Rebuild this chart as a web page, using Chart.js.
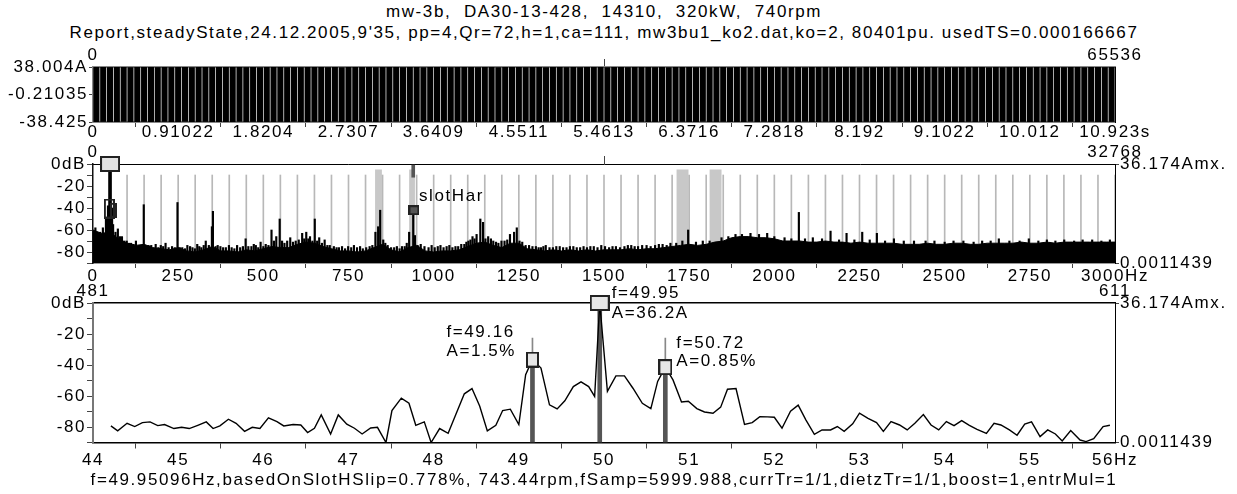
<!DOCTYPE html>
<html>
<head>
<meta charset="utf-8">
<script src="https://cdn.jsdelivr.net/npm/chart.js@4.4.0/dist/chart.umd.min.js"></script>
<style>
body { margin: 0; background: #fff; }
#wrap { position: relative; width: 1237px; height: 494px; overflow: hidden; font-family: 'Liberation Sans', Arial, sans-serif; }
.txt { position: absolute; left: 0; width: 1208px; text-align: center; font-size: 17px; letter-spacing: 1.6px; white-space: pre; color: #000; line-height: 20px; }
canvas { position: absolute; left: 0; }
</style>
</head>
<body>
<div id="wrap">
  <div class="txt" style="top:2px">mw-3b,  DA30-13-428,  14310,  320kW,  740rpm</div>
  <div class="txt" style="top:23px">Report,steadyState,24.12.2005,9'35, pp=4,Qr=72,h=1,ca=111, mw3bu1_ko2.dat,ko=2, 80401pu. usedTS=0.000166667</div>
  <canvas id="wave" width="1237" height="120" style="top:30px"></canvas>
  <canvas id="spec" width="1237" height="160" style="top:130px"></canvas>
  <canvas id="zoom" width="1237" height="198" style="top:272px"></canvas>
  <div class="txt" style="top:470px">f=49.95096Hz,basedOnSlotHSlip=0.778%, 743.44rpm,fSamp=5999.988,currTr=1/1,dietzTr=1/1,boost=1,entrMul=1</div>
</div>
<script>
// ---- top panel: time signal envelope (A) ----
var waveMax = [
  38.0, 38.0, 37.9, 38.0, 38.0, 37.8, 38.0, 38.0, 38.0, 37.9,
  38.0, 37.9, 38.0, 38.0, 37.8, 38.0, 38.0, 37.9, 38.0, 38.0,
  38.0, 38.0, 37.9, 38.0, 37.8, 38.0, 38.0, 38.0, 37.9, 38.0,
  37.9, 38.0, 38.0, 38.0, 37.9, 38.0, 37.8, 38.0, 38.0, 38.0,
  38.0, 37.9, 38.0, 38.0, 38.0, 37.9, 38.0, 38.0, 37.8, 38.0,
  38.0, 38.0, 37.9, 38.0, 38.0, 38.0, 37.9, 38.0, 38.0, 37.8,
  38.0, 38.0, 38.0, 37.9, 38.0, 38.0, 37.8, 38.0, 38.0, 37.9,
  38.0, 37.9, 38.0, 38.0, 38.0, 37.8, 38.0, 38.0, 37.9, 38.0,
  38.0, 38.0, 37.9, 38.0, 37.8, 38.0, 38.0, 38.0, 37.9, 38.0,
  37.9, 38.0, 38.0, 37.8, 38.0, 38.0, 37.9, 38.0, 38.0, 38.0,
  38.0, 37.9, 38.0, 38.0, 37.8, 38.0, 38.0, 38.0, 37.9, 38.0,
  38.0, 38.0, 37.8, 38.0, 37.9, 38.0, 38.0, 37.9, 38.0, 38.0,
  37.9, 38.0, 38.0, 38.0, 37.8, 38.0, 37.9, 38.0, 38.0, 38.0,
  38.0, 37.8, 38.0, 37.9, 38.0, 38.0, 38.0, 37.9, 38.0, 37.8,
  38.0, 38.0, 37.9, 38.0, 38.0, 37.8, 38.0, 38.0, 37.9, 38.0
];
var waveMin = [
  -38.4, -38.3, -38.4, -38.4, -38.2, -38.4, -38.4, -38.3, -38.4, -38.4,
  -38.3, -38.4, -38.4, -38.2, -38.4, -38.4, -38.3, -38.4, -38.4, -38.4,
  -38.4, -38.2, -38.4, -38.3, -38.4, -38.4, -38.4, -38.3, -38.4, -38.2,
  -38.4, -38.4, -38.3, -38.4, -38.4, -38.2, -38.4, -38.4, -38.3, -38.4,
  -38.3, -38.4, -38.4, -38.4, -38.2, -38.4, -38.3, -38.4, -38.4, -38.4,
  -38.4, -38.3, -38.4, -38.2, -38.4, -38.4, -38.4, -38.3, -38.4, -38.4,
  -38.2, -38.4, -38.4, -38.3, -38.4, -38.4, -38.2, -38.4, -38.3, -38.4,
  -38.4, -38.4, -38.3, -38.4, -38.2, -38.4, -38.4, -38.4, -38.3, -38.4,
  -38.3, -38.4, -38.4, -38.2, -38.4, -38.4, -38.3, -38.4, -38.4, -38.2,
  -38.4, -38.4, -38.3, -38.4, -38.4, -38.4, -38.2, -38.4, -38.3, -38.4,
  -38.4, -38.3, -38.4, -38.4, -38.2, -38.4, -38.4, -38.3, -38.4, -38.4,
  -38.2, -38.4, -38.4, -38.3, -38.4, -38.4, -38.4, -38.2, -38.4, -38.3,
  -38.4, -38.4, -38.3, -38.4, -38.2, -38.4, -38.4, -38.4, -38.3, -38.4,
  -38.3, -38.4, -38.4, -38.2, -38.4, -38.4, -38.3, -38.4, -38.4, -38.4,
  -38.4, -38.2, -38.4, -38.3, -38.4, -38.4, -38.2, -38.4, -38.4, -38.3
];
var waveYValues = [-38.425, -0.21035, 38.004];
var waveYLabels = ['-38.425', '-0.21035', '38.004A'];
var timeTickLabels = ['0', '0.91022', '1.8204', '2.7307', '3.6409', '4.5511', '5.4613',
  '6.3716', '7.2818', '8.192', '9.1022', '10.012', '10.923s'];
var waveIndexLabels = ['0', '65536'];

// ---- middle panel: spectrum 0..3000 Hz (dB) ----
var noiseStep = 25;
var noiseDb = [
  -60, -63, -62, -68, -72, -74, -73, -76, -77, -78,
  -76, -79, -80, -78, -75, -79, -79, -80, -78, -79,
  -77, -75, -76, -76, -73, -71, -72, -75, -77, -79,
  -79, -80, -79, -76, -73, -78, -80, -76, -74, -79,
  -80, -79, -79, -78, -75, -72, -71, -74, -76, -72,
  -72, -77, -78, -79, -78, -79, -78, -79, -78, -79,
  -78, -78, -78, -77, -78, -77, -77, -76, -75, -74,
  -73, -74, -73, -71, -70, -67, -66, -66, -67, -67,
  -68, -70, -70, -70, -71, -71, -70, -71, -71, -72,
  -71, -72, -72, -72, -72, -73, -73, -73, -72, -73,
  -73, -72, -72, -73, -73, -72, -72, -72, -72, -71,
  -72, -72, -71, -72, -71, -71, -71, -71, -71, -71,
  -71
];
var spikeFreq = [7, 14, 21, 29, 38, 44, 56, 59, 66, 73, 79, 85, 92, 99, 106, 112, 119, 126, 137, 149,
  156, 163, 171, 184, 192, 199, 206, 213, 222, 232, 240, 248, 255, 262, 270, 277, 285, 292, 299, 306,
  312, 318, 325, 331, 340, 349, 352, 360, 366, 374, 382, 390, 399, 407, 415, 423, 432, 440, 448, 456,
  465, 472, 478, 485, 492, 500, 507, 515, 524, 531, 538, 548, 555, 562, 570, 579, 587, 595, 604, 614,
  620, 626, 632, 637, 644, 651, 658, 664, 672, 680, 688, 695, 707, 715, 722, 731, 740, 749, 758, 766,
  775, 784, 792, 802, 812, 820, 829, 837, 843, 852, 858, 865, 875, 884, 892, 900, 907, 915, 921, 928,
  940, 945, 953, 962, 973, 985, 994, 1003, 1012, 1020, 1029, 1038, 1046, 1055, 1064, 1072, 1081, 1090, 1096, 1102,
  1108, 1114, 1120, 1126, 1137, 1145, 1152, 1160, 1168, 1175, 1183, 1190, 1199, 1208, 1216, 1224, 1236, 1244, 1252, 1260,
  1270, 1280, 1290, 1300, 1308, 1315, 1322, 1329, 1340, 1350, 1360, 1370, 1380, 1390, 1400, 1410, 1420, 1430, 1440, 1450,
  1460, 1470, 1481, 1492, 1503, 1515, 1525, 1535, 1547, 1560, 1570, 1580, 1590, 1600, 1612, 1625, 1637, 1650, 1661, 1672,
  1684, 1695, 1712, 1730, 1747, 1770, 1790, 1810, 1845, 1865, 1886,
  1905, 1930, 1955, 1979, 2000, 2030, 2050, 2072, 2090, 2113, 2140, 2165, 2190, 2212, 2235, 2258, 2280, 2301, 2325, 2351,
  2380, 2410, 2444, 2470, 2500, 2526, 2555, 2585, 2610, 2635, 2659, 2690, 2720, 2747, 2775, 2800, 2825, 2851, 2880, 2905,
  2933, 2960, 2985];
var spikeDb = [-58, -64, -62, -58, -50, -38, -40, -55, -62, -59, -66, -66, -70, -70, -72, -72, -73, -70, -74, -37,
  -75, -74, -74, -73, -76, -74, -75, -72, -76, -75, -76, -35, -76, -76, -77, -74, -75, -76, -77, -73,
  -75, -76, -74, -70, -74, -57, -43, -75, -74, -75, -76, -76, -74, -76, -77, -74, -76, -75, -68, -75,
  -75, -73, -74, -76, -71, -75, -73, -74, -60, -70, -66, -50, -70, -72, -70, -67, -71, -70, -69, -63,
  -68, -62, -68, -66, -70, -50, -70, -67, -72, -69, -74, -74, -75, -76, -76, -75, -77, -75, -76, -74,
  -76, -75, -77, -76, -75, -74, -62, -57, -42, -69, -72, -74, -76, -76, -75, -77, -75, -75, -72, -62,
  -40, -65, -74, -73, -75, -76, -74, -76, -75, -74, -76, -75, -74, -76, -75, -75, -73, -73, -71, -70,
  -69, -66, -68, -64, -50, -53, -68, -66, -68, -70, -71, -72, -70, -70, -69, -64, -62, -58, -70, -71,
  -74, -74, -75, -75, -76, -76, -75, -74, -76, -76, -75, -75, -76, -76, -75, -75, -76, -76, -75, -76,
  -75, -75, -76, -74, -75, -76, -75, -75, -76, -75, -74, -74, -75, -75, -74, -74, -75, -74, -73, -73,
  -74, -72, -72, -70, -60, -71, -70, -70, -67, -66, -64,
  -64, -63, -64, -63, -66, -67, -68, -44, -68, -67, -68, -61, -69, -63, -69, -62, -69, -63, -70, -68,
  -70, -70, -70, -70, -71, -70, -70, -71, -70, -70, -68, -70, -70, -68, -70, -69, -70, -69, -70, -69,
  -69, -70, -69];
var mainFreq = 50;
var mainDb = 0;
var harmonicFirst = 100, harmonicLast = 3000, harmonicStep = 50;
var bandStart = [828, 928, 1713, 1810];
var bandEnd = [848, 945, 1748, 1845];
var bandTop = -5;
var slotFreq = 942, slotDb = -42, slotLabel = 'slotHar';
var sideFreq = [48, 60];
var sideDb = [-40.5, -42];
var dbTickValues = [-90, -80, -70, -60, -50, -40, -30, -20, -10, 0];
var dbTickLabels = ['', '-80', '', '-60', '', '-40', '', '-20', '', '0dB'];
var ampLabels = ['0.0011439', '36.174Amx.'];
var specTickLabels = ['0', '250', '500', '750', '1000', '1250', '1500', '1750', '2000', '2250', '2500', '2750', '3000Hz'];
var specIndexLabels = ['0', '32768'];

// ---- bottom panel: zoom 44..56 Hz (dB) ----
var zoomFreq = [44.21, 44.29, 44.40, 44.49, 44.58, 44.67, 44.76, 44.84, 44.95, 45.04,
  45.13, 45.23, 45.33, 45.41, 45.49, 45.59, 45.68, 45.78, 45.87, 45.96,
  46.06, 46.16, 46.24, 46.35, 46.44, 46.52, 46.60, 46.68, 46.79, 46.88,
  46.98, 47.07, 47.16, 47.26, 47.34, 47.44, 47.51, 47.62, 47.71, 47.79,
  47.89, 47.97, 48.07, 48.17, 48.26, 48.36, 48.45, 48.54, 48.63, 48.73,
  48.81, 48.90, 49.00, 49.08, 49.16, 49.26, 49.36, 49.45, 49.54, 49.64,
  49.73, 49.82, 49.89, 49.95, 50.04, 50.14, 50.24, 50.34, 50.45, 50.55,
  50.63, 50.72, 50.81, 50.91, 50.99, 51.09, 51.18, 51.28, 51.37, 51.45,
  51.55, 51.65, 51.74, 51.83, 51.92, 52.00, 52.09, 52.19, 52.28, 52.37,
  52.47, 52.56, 52.66, 52.74, 52.82, 52.92, 53.00, 53.10, 53.20, 53.28,
  53.37, 53.47, 53.56, 53.65, 53.75, 53.84, 53.93, 54.02, 54.11, 54.20,
  54.29, 54.38, 54.49, 54.58, 54.66, 54.76, 54.85, 54.94, 55.02, 55.12,
  55.21, 55.30, 55.38, 55.48, 55.59, 55.66, 55.75, 55.86, 55.94];
var zoomDb = [-79.3, -82.5, -77.6, -79.7, -77.2, -76.7, -79.1, -78.4, -81.0, -80.2,
  -81.0, -78.9, -76.7, -81.0, -79.3, -75.0, -77.6, -82.8, -80.2, -81.0,
  -74.1, -76.5, -79.3, -78.4, -78.7, -83.6, -80.8, -72.2, -84.5, -72.2,
  -78.2, -80.8, -84.5, -80.6, -80.2, -90.0, -69.4, -61.4, -64.7, -78.9,
  -76.7, -90.0, -81.0, -84.1, -72.0, -58.6, -55.2, -66.4, -82.5, -78.9,
  -69.4, -68.5, -78.4, -46.3, -36.5, -42.0, -65.7, -68.3, -63.1, -53.9,
  -50.9, -53.9, -60.3, 0, -57.0, -47.0, -47.0, -55.0, -64.7, -68.1,
  -50.6, -41.4, -49.6, -63.8, -63.4, -68.1, -70.3, -71.1, -67.2, -55.6,
  -55.2, -78.4, -77.2, -73.3, -73.5, -73.7, -80.8, -69.8, -65.9, -75.4,
  -84.7, -81.9, -81.9, -79.7, -82.8, -78.0, -71.1, -74.4, -77.2, -82.8,
  -76.5, -78.7, -81.9, -77.6, -72.0, -78.7, -81.9, -76.5, -79.1, -75.9,
  -78.9, -81.5, -84.1, -77.6, -78.7, -81.9, -85.3, -78.2, -76.7, -86.2,
  -81.9, -84.5, -89.0, -82.3, -88.4, -89.4, -87.5, -79.7, -78.9];
var markFreq = [49.16, 49.95, 50.72];
var markDb = [-36.5, 0, -41.4];
var markStemTop = [-22.6, null, -22.6];
var markLabelF = ['f=49.16', 'f=49.95', 'f=50.72'];
var markLabelA = ['A=1.5%', 'A=36.2A', 'A=0.85%'];
var zoomTickLabels = ['44', '45', '46', '47', '48', '49', '50', '51', '52', '53', '54', '55', '56Hz'];
var zoomIndexLabels = ['481', '611'];

// ---- shared look ----
var FONT = { family: "'Liberation Sans', Arial, sans-serif", size: 17 };
var FONT_CSS = "17px 'Liberation Sans', Arial, sans-serif";
var SPACING = '1.6px';
var LEFT_W = 93, RIGHT_W = 122;

var spacingPlugin = {
  id: 'spacing',
  beforeUpdate: function (c) { c.ctx.letterSpacing = SPACING; },
  beforeDraw: function (c) { c.ctx.letterSpacing = SPACING; }
};

function boxImg(w, h, fill, line) {
  var cv = document.createElement('canvas');
  cv.width = w; cv.height = h;
  var g = cv.getContext('2d');
  if (fill) { g.fillStyle = fill; g.fillRect(0, 0, w, h); }
  g.strokeStyle = line; g.lineWidth = 2;
  g.strokeRect(1, 1, w - 2, h - 2);
  return cv;
}

function pinTicks(values, labels, tickLen, pad) {
  return {
    afterBuildTicks: function (a) { a.ticks = values.map(function (v) { return { value: v }; }); },
    ticks: {
      autoSkip: false, maxRotation: 0, minRotation: 0, color: '#000', font: FONT, padding: pad === undefined ? 1 : pad,
      callback: function (v, i) { return labels[i]; }
    },
    grid: { drawOnChartArea: false, tickLength: tickLen, color: '#444', tickWidth: 1 }
  };
}

function axis(base, extra) {
  return Object.assign({}, base, extra);
}

function fixW(w) { return function (s) { s.width = w; }; }
function fixH(h) { return function (s) { s.height = h; }; }

var common = {
  responsive: false,
  animation: false,
  events: [],
  layout: { padding: 0 },
  plugins: { legend: { display: false }, tooltip: { enabled: false }, title: { display: false } }
};

// ================= top panel =================
var timeValues = timeTickLabels.map(parseFloat);
new Chart(document.getElementById('wave'), {
  type: 'bar',
  data: {
    labels: waveMax.map(function (v, i) { return i; }),
    datasets: [{
      data: waveMax.map(function (v, i) { return [waveMin[i], v]; }),
      backgroundColor: '#000',
      barPercentage: 0.9,
      categoryPercentage: 1,
      xAxisID: 'xc',
      yAxisID: 'y'
    }]
  },
  options: Object.assign({}, common, {
    scales: {
      xc: { type: 'category', display: false, offset: true },
      x: axis(pinTicks(timeValues, timeTickLabels, 5, -5), {
        type: 'linear', position: 'bottom', min: 0, max: timeValues[timeValues.length - 1], offset: false,
        border: { color: '#888', width: 2 }, afterFit: fixH(28)
      }),
      x2: axis(pinTicks([0, 65536], waveIndexLabels, 8, -7), {
        type: 'linear', position: 'top', min: 0, max: 65536, offset: false,
        border: { color: '#888', width: 2 }, afterFit: fixH(37)
      }),
      y: axis(pinTicks(waveYValues, waveYLabels, 4), {
        type: 'linear', position: 'left', min: waveYValues[0], max: waveYValues[2],
        border: { color: '#888', width: 2 }, afterFit: fixW(LEFT_W)
      }),
      y2: {
        type: 'linear', position: 'right', min: waveYValues[0], max: waveYValues[2],
        ticks: { display: false }, grid: { drawOnChartArea: false, drawTicks: false },
        border: { color: '#000', width: 1 }, afterFit: fixW(RIGHT_W)
      }
    }
  }),
  plugins: [spacingPlugin]
});

// ================= middle panel =================
var harmonics = [];
for (var h = harmonicFirst; h <= harmonicLast; h += harmonicStep) harmonics.push({ x: h, y: [-90, -10] });
var specValues = specTickLabels.map(parseFloat);

var bandPlugin = {
  id: 'bands',
  beforeDatasetsDraw: function (c) {
    var ctx = c.ctx, x = c.scales.x, y = c.scales.y, area = c.chartArea;
    ctx.save();
    ctx.fillStyle = '#c8c8c8';
    bandStart.forEach(function (f, i) {
      var l = x.getPixelForValue(f), r = x.getPixelForValue(bandEnd[i]);
      var t = y.getPixelForValue(bandTop);
      ctx.fillRect(l, t, r - l, area.bottom - t);
    });
    ctx.restore();
  },
  afterDatasetsDraw: function (c) {
    var ctx = c.ctx, x = c.scales.x, y = c.scales.y;
    ctx.save();
    ctx.letterSpacing = SPACING;
    ctx.font = FONT_CSS;
    ctx.fillStyle = '#000';
    ctx.textBaseline = 'middle';
    ctx.textAlign = 'left';
    ctx.fillText(slotLabel, x.getPixelForValue(slotFreq) + 5, y.getPixelForValue(slotDb) - 14);
    ctx.restore();
  }
};

new Chart(document.getElementById('spec'), {
  type: 'bar',
  data: {
    datasets: [
      { type: 'bar', data: harmonics, backgroundColor: '#b8b8b8', barThickness: 1, grouped: false, order: 10 },
      {
        type: 'line', data: noiseDb.map(function (v, i) { return { x: i * noiseStep, y: v }; }),
        borderColor: '#000', backgroundColor: '#000', borderWidth: 1, pointRadius: 0, fill: 'start', tension: 0, order: 8
      },
      {
        type: 'bar', data: spikeFreq.map(function (f, i) { return { x: f, y: [-90, spikeDb[i]] }; }),
        backgroundColor: '#000', barThickness: 1.5, grouped: false, order: 6
      },
      { type: 'bar', data: [{ x: mainFreq, y: [-90, mainDb] }], backgroundColor: '#000', barThickness: 3, grouped: false, order: 5 },
      { type: 'bar', data: [{ x: slotFreq - 2, y: [-12, -1] }], backgroundColor: '#555', barThickness: 3, grouped: false, order: 4 },
      {
        type: 'line', showLine: false, clip: false, order: 1,
        data: [{ x: mainFreq, y: mainDb }, { x: sideFreq[0], y: sideDb[0] }, { x: sideFreq[1], y: sideDb[1] }, { x: slotFreq, y: slotDb }],
        pointRadius: 5,
        pointStyle: [boxImg(20, 16, '#e2e2e2', '#222'), boxImg(11, 20, null, '#222'), boxImg(7, 15, null, '#222'), boxImg(11, 10, '#555', '#222')]
      }
    ]
  },
  options: Object.assign({}, common, {
    scales: {
      x: axis(pinTicks(specValues, specTickLabels, 5, -2), {
        type: 'linear', position: 'bottom', min: 0, max: 3000, offset: false,
        border: { color: '#999', width: 2 }, afterFit: fixH(27)
      }),
      x2: axis(pinTicks([0, 32768], specIndexLabels, 8, -7), {
        type: 'linear', position: 'top', min: 0, max: 32768, offset: false,
        border: { color: '#000', width: 1 }, afterFit: fixH(34)
      }),
      y: axis(pinTicks(dbTickValues, dbTickLabels, 6), {
        type: 'linear', position: 'left', min: -90, max: 0,
        border: { color: '#111', width: 1.5 }, afterFit: fixW(LEFT_W)
      }),
      y2: axis(pinTicks([-90, 0], ampLabels, 4), {
        type: 'linear', position: 'right', min: -90, max: 0,
        border: { color: '#000', width: 1 }, afterFit: fixW(RIGHT_W)
      })
    }
  }),
  plugins: [spacingPlugin, bandPlugin]
});

// ================= bottom panel =================
var zoomValues = zoomTickLabels.map(parseFloat);
var markLabelPlugin = {
  id: 'markLabels',
  afterDatasetsDraw: function (c) {
    var ctx = c.ctx, x = c.scales.x, y = c.scales.y;
    ctx.save();
    ctx.letterSpacing = SPACING;
    ctx.font = FONT_CSS;
    ctx.fillStyle = '#000';
    ctx.textBaseline = 'middle';
    ctx.textAlign = 'left';
    markFreq.forEach(function (f, i) {
      var px = x.getPixelForValue(f), py = y.getPixelForValue(markDb[i]);
      if (i === 0) {
        ctx.fillText(markLabelF[i], px - 86, py - 27);
        ctx.fillText(markLabelA[i], px - 86, py - 8);
      } else if (i === 1) {
        ctx.fillText(markLabelF[i], px + 12, py - 10);
        ctx.fillText(markLabelA[i], px + 12, py + 10);
      } else {
        ctx.fillText(markLabelF[i], px + 11, py - 24);
        ctx.fillText(markLabelA[i], px + 11, py - 6);
      }
    });
    ctx.restore();
  }
};

new Chart(document.getElementById('zoom'), {
  type: 'bar',
  data: {
    datasets: [
      {
        type: 'bar', data: markFreq.map(function (f, i) { return markStemTop[i] === null ? null : { x: f, y: [markDb[i], markStemTop[i]] }; }).filter(Boolean),
        backgroundColor: '#888', barThickness: 1, grouped: false, order: 6
      },
      {
        type: 'bar', data: markFreq.map(function (f, i) { return { x: f, y: [-90, markDb[i]] }; }),
        backgroundColor: '#555', barThickness: 4, grouped: false, order: 5
      },
      {
        type: 'line', data: zoomFreq.map(function (f, i) { return { x: f, y: zoomDb[i] }; }),
        borderColor: '#000', borderWidth: 1.4, pointRadius: 0, fill: false, tension: 0, order: 3
      },
      {
        type: 'line', showLine: false, clip: false, order: 1,
        data: markFreq.map(function (f, i) { return { x: f, y: markDb[i] }; }),
        pointRadius: 5,
        pointStyle: [boxImg(13, 16, '#e6e6e6', '#222'), boxImg(20, 16, '#e6e6e6', '#222'), boxImg(14, 16, '#e6e6e6', '#222')]
      }
    ]
  },
  options: Object.assign({}, common, {
    scales: {
      x: axis(pinTicks(zoomValues, zoomTickLabels, 6, 2), {
        type: 'linear', position: 'bottom', min: 44, max: 56, offset: false,
        border: { color: '#000', width: 1.5 }, afterFit: fixH(27.5)
      }),
      x2: axis(pinTicks([481, 611], zoomIndexLabels, 8, -7), {
        type: 'linear', position: 'top', min: 481, max: 611, offset: false,
        border: { color: '#000', width: 1.5 }, afterFit: fixH(31)
      }),
      y: axis(pinTicks(dbTickValues, dbTickLabels, 6), {
        type: 'linear', position: 'left', min: -90, max: 0,
        border: { color: '#777', width: 2 }, afterFit: fixW(LEFT_W)
      }),
      y2: axis(pinTicks([-90, 0], ampLabels, 4), {
        type: 'linear', position: 'right', min: -90, max: 0,
        border: { color: '#000', width: 1 }, afterFit: fixW(RIGHT_W)
      })
    }
  }),
  plugins: [spacingPlugin, markLabelPlugin]
});
</script>
</body>
</html>
